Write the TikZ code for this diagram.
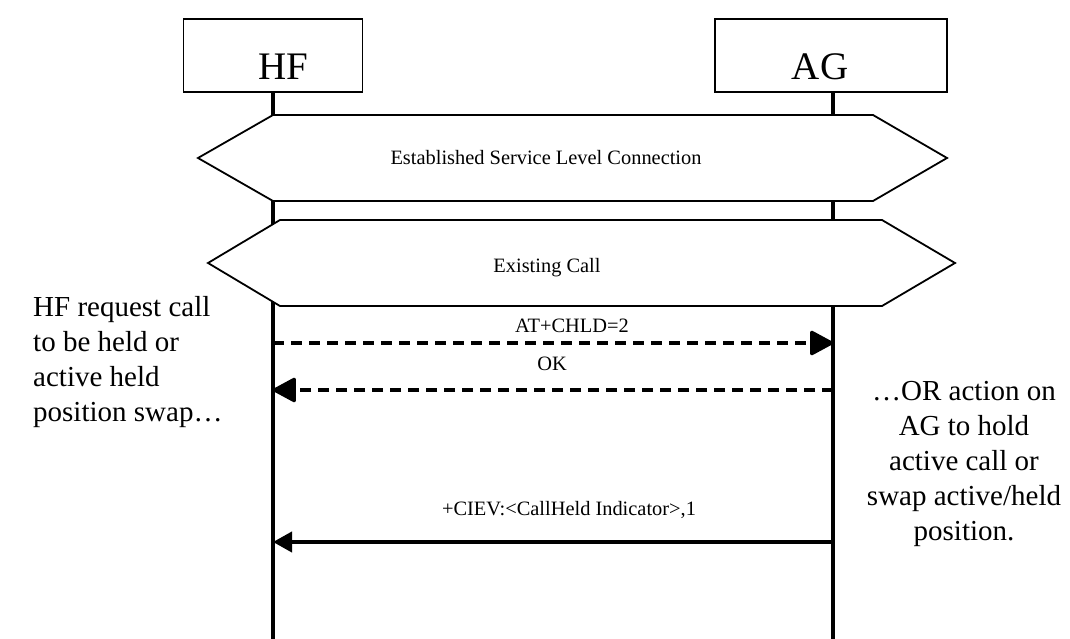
\documentclass[tikz,border=0pt]{standalone}
\usepackage{fontspec}
\setmainfont{Liberation Serif}
\usetikzlibrary{arrows.meta}

\begin{document}
\begin{tikzpicture}[x=1pt, y=-1pt, font=\fontsize{20.4}{24}\selectfont, lane/.style = {draw, line width=1.3pt, minimum width=179pt, minimum height=73pt, inner sep=0pt}, title/.style = {anchor=base, font=\fontsize{39}{39}\selectfont}, life/.style = {line width=3.2pt}, hexa/.style = {draw, fill=white, line width=1.8pt, line join=miter}, msg/.style = {line width=3.5pt, dash pattern=on 11pt off 7pt, -{Triangle[length=25pt, width=26pt, round]}}, reply/.style = {line width=4pt, -{Triangle[length=19pt, width=20pt]}}, side/.style = {font=\fontsize{29}{35}\selectfont, inner sep=0pt}]
                    \useasboundingbox (0,0) rectangle (1070,639);
                    \node[lane] (hf) at (273,55.5) {};
                    \node[lane, minimum width=232pt] (ag) at (831,55.5) {};
                    \node[title] (hft) at (283,80) {HF};
                    \node[title] (agt) at (820,80) {AG};
                    \coordinate (hfe) at (273,639);
                    \coordinate (age) at (833,639);
                    \draw[life] (hf.south) -- (hfe);
                    \draw[life] (age |- ag.south) -- (age);
                    \draw[hexa] (198,158) -- (273,115) -- (873,115) -- (947,158) -- (873,201) -- (273,201) -- cycle;
                    \node[anchor=base] (slc) at (546,165) {Established Service Level Connection};
                    \draw[hexa] (208,263) -- (280,220) -- (882,220) -- (955,263) -- (882,306) -- (280,306) -- cycle;
                    \node[anchor=base] (call) at (547,272) {Existing Call};
                    \coordinate (hf1) at (273,343);
                    \coordinate (ag1) at (833,343);
                    \coordinate (hf2) at (273,390);
                    \coordinate (ag2) at (833,390);
                    \coordinate (hf3) at (273,542);
                    \coordinate (ag3) at (833,542);
                    \draw[msg] (hf1) -- (ag1);
                    \draw[msg] (ag2) -- (hf2);
                    \draw[reply] (ag3) -- (hf3);
                    \node[anchor=base] (chld) at (572,332) {AT+CHLD=2};
                    \node[anchor=base] (ok) at (552,370) {OK};
                    \node[anchor=base] (ciev) at (569,515) {+CIEV:<CallHeld Indicator>,1};
                    \node[side, anchor=north west, align=left] (hfnote) at (33,296) {HF request call\\to be held or\\active held\\position swap…};
                    \node[side, anchor=north, align=center] (agnote) at (964,381) {…OR action on\\AG to hold\\active call or\\swap active/held\\position.};
                \end{tikzpicture}
\end{document}
